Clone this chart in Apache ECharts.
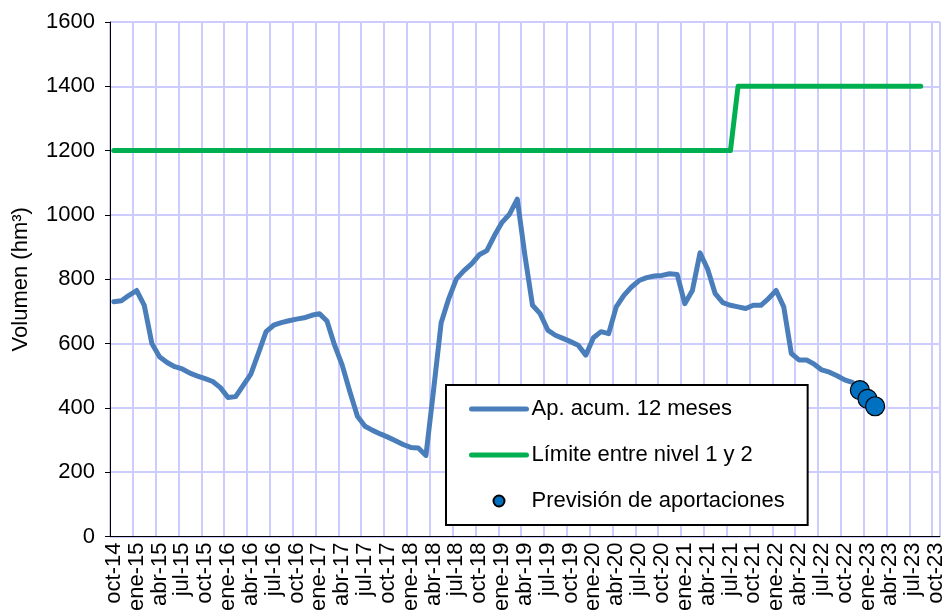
<!DOCTYPE html>
<html>
<head>
<meta charset="utf-8">
<script src="https://cdn.jsdelivr.net/npm/echarts@6/dist/echarts.min.js"></script>
<style>
  html, body { margin: 0; padding: 0; background: #fff; }
  #chart { width: 947px; height: 614px; }
</style>
</head>
<body>
<div id="chart"></div>
<script>
// meses (oct-14 ... oct-23)
var nombresMes = ['ene', 'feb', 'mar', 'abr', 'may', 'jun', 'jul', 'ago', 'sep', 'oct', 'nov', 'dic'];
var meses = [];
for (var a = 14; a <= 23; a++) {
  for (var m = 0; m < 12; m++) {
    if (a === 14 && m < 9) continue;
    if (a === 23 && m > 9) continue;
    meses.push(nombresMes[m] + '-' + a);
  }
}

// Ap. acum. 12 meses (hm3), desde oct-14
var aportaciones = [
  730, 733, 750, 765, 719, 600, 559, 541, 528, 521, 508, 499,
  491, 482, 463, 432, 435, 470, 505, 570, 637, 657, 665, 671,
  676, 680, 688, 693, 670, 595, 533, 451, 374, 343, 330, 319,
  309, 298, 286, 277, 275, 252, 455, 665, 740, 801, 827, 848,
  876, 889, 936, 977, 1003, 1049, 874, 719, 693, 642, 626, 616,
  606, 595, 564, 618, 637, 631, 714, 750, 776, 796, 805, 810,
  812, 817, 815, 724, 765, 882, 832, 755, 727, 719, 714, 709,
  719, 719, 740, 765, 714, 569, 549, 549, 536, 518, 511, 500,
  487, 479
];

// Límite entre nivel 1 y 2 (tramos)
var limiteMeses = ['oct-14', 'jul-21', 'ago-21', 'ago-23'];
var limiteValores = [1200, 1200, 1400, 1400];

// Previsión de aportaciones
var previsionMeses = ['dic-22', 'ene-23', 'feb-23'];
var previsionValores = [455, 428, 405];

var yTicks = { min: 0, max: 1600, interval: 200 };

var fuente = "'Liberation Sans', Arial, sans-serif";
var gridColor = '#CCCCFF';
var azul = '#4A7EBB';
var verde = '#00B050';

var chart = echarts.init(document.getElementById('chart'), null, { renderer: 'canvas' });

chart.setOption({
  animation: false,
  textStyle: { fontFamily: fuente, color: '#000' },
  grid: {
    left: 110, right: 7, top: 22, bottom: 75,
    show: true, borderColor: '#808080', borderWidth: 1
  },
  legend: {
    orient: 'vertical',
    left: 446, top: 385,
    padding: [13, 23, 13, 23],
    itemGap: 24,
    itemWidth: 55,
    itemHeight: 11,
    borderColor: '#000',
    borderWidth: 2,
    backgroundColor: '#fff',
    textStyle: { fontSize: 22, color: '#000', fontFamily: fuente },
    data: [
      { name: 'Ap. acum. 12 meses', itemStyle: { opacity: 0 }, lineStyle: { width: 5, color: azul, cap: 'round' } },
      { name: 'Límite entre nivel 1 y 2', itemStyle: { opacity: 0 }, lineStyle: { width: 5, color: verde, cap: 'round' } },
      { name: 'Previsión de aportaciones' }
    ]
  },
  xAxis: {
    type: 'category',
    data: meses,
    boundaryGap: true,
    axisLine: { lineStyle: { color: '#000', width: 1 } },
    axisTick: { interval: 2, length: 5, lineStyle: { color: '#000' } },
    axisLabel: {
      interval: 2, rotate: 90, fontSize: 22, color: '#000', margin: 6,
      fontFamily: fuente
    },
    splitLine: { show: true, interval: 2, lineStyle: { color: gridColor, width: 2 } }
  },
  yAxis: {
    type: 'value',
    min: yTicks.min, max: yTicks.max, interval: yTicks.interval,
    name: 'Volumen (hm³)',
    nameLocation: 'middle',
    nameRotate: 90,
    nameGap: 78,
    nameTextStyle: { fontSize: 22, color: '#000', fontFamily: fuente },
    axisLine: { show: true, lineStyle: { color: '#000', width: 1 } },
    axisTick: { show: true, length: 5, lineStyle: { color: '#000' } },
    axisLabel: {
      fontSize: 22, color: '#000', margin: 15, fontFamily: fuente,
      formatter: function (v) { return String(v); }
    },
    splitLine: { show: true, lineStyle: { color: gridColor, width: 2 } }
  },
  series: [
    {
      name: 'Ap. acum. 12 meses',
      type: 'line',
      data: aportaciones,
      symbol: 'none',
      lineStyle: { color: azul, width: 5, cap: 'round', join: 'round' },
      itemStyle: { color: azul },
      z: 3
    },
    {
      name: 'Límite entre nivel 1 y 2',
      type: 'line',
      data: limiteMeses.map(function (m, i) { return [m, limiteValores[i]]; }),
      symbol: 'none',
      lineStyle: { color: verde, width: 5, cap: 'round', join: 'round' },
      itemStyle: { color: verde },
      z: 2
    },
    {
      name: 'Previsión de aportaciones',
      type: 'scatter',
      data: previsionMeses.map(function (m, i) { return [m, previsionValores[i]]; }),
      symbol: 'circle',
      symbolSize: 19,
      itemStyle: { color: '#0070C0', borderColor: '#000', borderWidth: 1.2, opacity: 1 },
      z: 4
    }
  ]
});
</script>
</body>
</html>
